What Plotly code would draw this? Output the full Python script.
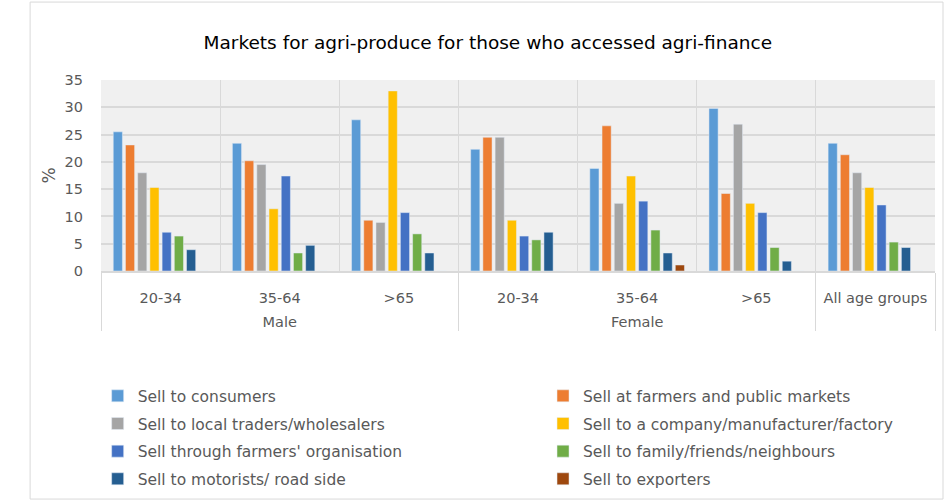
import plotly.graph_objects as go

genders = ["Male", "Male", "Male", "Female", "Female", "Female", ""]
ages = ["20-34", "35-64", ">65", "20-34", "35-64", ">65", "All age groups"]

series_names = [
    "Sell to consumers",
    "Sell at farmers and public markets",
    "Sell to local traders/wholesalers",
    "Sell to a company/manufacturer/factory",
    "Sell through farmers' organisation",
    "Sell to family/friends/neighbours",
    "Sell to motorists/ road side",
    "Sell to exporters",
]
colors = ["#5B9BD5", "#ED7D31", "#A5A5A5", "#FFC000", "#4472C4", "#70AD47", "#255E91", "#9E480E"]

consumers = [25.5, 23.4, 27.7, 22.3, 18.8, 29.8, 23.4]
farm_markets = [23.1, 20.2, 9.3, 24.5, 26.6, 14.2, 21.3]
traders = [18.0, 19.5, 8.9, 24.5, 12.4, 26.9, 18.0]
company = [15.3, 11.4, 33.0, 9.3, 17.4, 12.4, 15.3]
organisation = [7.1, 17.4, 10.7, 6.4, 12.8, 10.7, 12.1]
family = [6.4, 3.3, 6.8, 5.7, 7.5, 4.3, 5.3]
road_side = [3.9, 4.7, 3.3, 7.1, 3.3, 1.8, 4.3]
exporters = [0, 0, 0, 0, 1.1, 0, 0]

values = [consumers, farm_markets, traders, company, organisation, family, road_side, exporters]

# parent labels sit a line lower than the age labels
parents = ["<br>" + g if g else g for g in genders]

fig = go.Figure()
for i, (name, col, vals) in enumerate(zip(series_names, colors, values)):
    # legend is two columns: odd items left, even items right
    fig.add_trace(go.Bar(x=[parents, ages], y=vals, name=name, marker_color=col,
                         legend="legend" if i % 2 == 0 else "legend2", legendgroup=name))

leg = dict(orientation="v", yref="container", y=0.243, yanchor="top", tracegroupgap=4.5,
           font=dict(size=15.5, color="#595959"), bgcolor="rgba(0,0,0,0)")

fig.update_layout(
    width=949, height=501,
    barmode="group", bargap=0.18, bargroupgap=0.25,
    font=dict(family="DejaVu Sans, Liberation Sans", size=14.5, color="#595959"),
    title=dict(text="Markets for agri-produce for those who accessed agri-finance",
               x=0.514, xanchor="center", y=0.915, yanchor="middle",
               font=dict(size=18.5, color="#000000")),
    margin=dict(l=101, r=14, t=80, b=230),
    plot_bgcolor="#f0f0f0", paper_bgcolor="white",
    legend=dict(leg, x=-0.004, xanchor="left"),
    legend2=dict(leg, x=0.53, xanchor="left"),
)
fig.update_yaxes(range=[0, 35], dtick=5, showgrid=True, gridcolor="#d9d9d9", gridwidth=2,
                 zeroline=False, showline=False, ticklabelstandoff=17, automargin=False,
                 title=dict(text="%", standoff=4))
fig.update_xaxes(showgrid=True, gridcolor="#d9d9d9", gridwidth=1,
                 showline=True, linecolor="#d9d9d9", linewidth=2,
                 showdividers=True, dividercolor="#d9d9d9", dividerwidth=1,
                 ticks="", ticklabelstandoff=13, automargin=False)
fig.add_shape(type="rect", xref="paper", yref="paper", x0=-0.085, x1=1.0096, y0=-1.194, y1=1.408,
              line=dict(color="#d9d9d9", width=1))

fig.write_html("out.html", config={"displayModeBar": False},
               post_script="document.body.style.margin='0px';")
